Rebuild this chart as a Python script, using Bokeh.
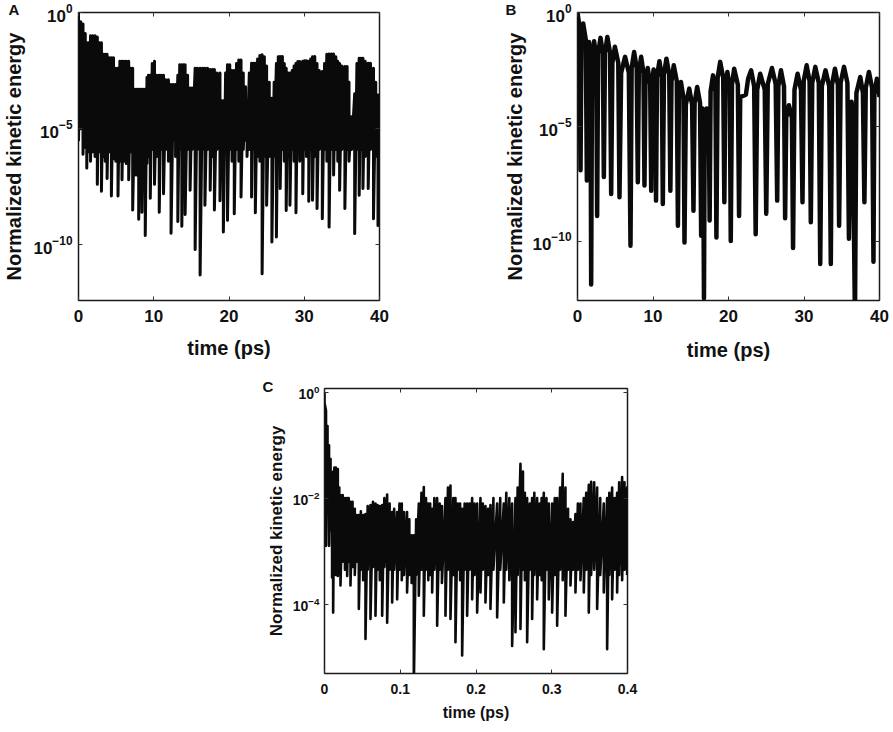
import numpy as np
from bokeh.plotting import figure
from bokeh.models import (FixedTicker, LogAxis, LinearAxis, Range1d,
                          CustomJSTickFormatter)
from bokeh.layouts import column, row
from bokeh.embed import file_html
from bokeh.resources import INLINE

FONT = "Liberation Sans"

# ---------------- data (log10 of normalized kinetic energy) ----------------
# Panel A: fast oscillation, one (top, bottom) pair per oscillation
a_t = [0.0, 0.3, 0.6, 0.9, 1.1, 1.35, 1.6, 1.9, 2.2, 2.5,
       2.8, 3.05, 3.3, 3.55, 3.8, 4.1, 4.37, 4.65, 4.95, 5.25,
       5.5, 5.78, 6.05, 6.35, 6.67, 6.95, 7.2, 7.5, 7.75, 8.0,
       8.2, 8.43, 8.65, 8.87, 9.1, 9.3, 9.54, 9.8, 10.1, 10.4,
       10.73, 11.0, 11.3, 11.6, 11.95, 12.3, 12.6, 12.9, 13.2, 13.45,
       13.73, 13.95, 14.17, 14.5, 14.83, 15.1, 15.5, 15.8, 16.16, 16.5,
       16.8, 17.15, 17.5, 17.8, 18.06, 18.4, 18.8, 19.05, 19.25, 19.55,
       19.8, 20.1, 20.4, 20.7, 21.0, 21.3, 21.6, 21.9, 22.2, 22.4,
       22.7, 23.0, 23.25, 23.5, 23.8, 24.1, 24.4, 24.7, 25.0, 25.35,
       25.7, 26.0, 26.3, 26.55, 26.8, 27.1, 27.35, 27.6, 27.85, 28.1,
       28.4, 28.65, 28.9, 29.15, 29.4, 29.8, 30.05, 30.3, 30.6, 30.85,
       31.1, 31.4, 31.7, 32.0, 32.4, 32.7, 33.0, 33.3, 33.6, 33.9,
       34.2, 34.45, 34.7, 35.0, 35.4, 35.7, 35.95, 36.3, 36.7, 37.0,
       37.3, 37.55, 37.8, 38.1, 38.5, 38.8, 39.2, 39.5, 39.8, 40.0]
a_top = [0.0, -0.4, -0.5, -0.9, -1.3, -1.3, -1.0, -1.0, -1.0, -1.05,
         -1.3, -1.3, -1.8, -1.8, -1.8, -1.95, -1.95, -1.95, -2.4, -2.4,
         -2.1, -2.1, -2.1, -2.1, -2.1, -2.4, -2.4, -3.3, -3.3, -3.3,
         -3.3, -3.3, -3.3, -3.3, -2.8, -2.7, -2.7, -2.2, -2.1, -2.7,
         -2.7, -2.7, -2.7, -2.9, -2.9, -3.1, -3.1, -3.1, -2.7, -2.25,
         -2.25, -2.25, -2.25, -2.7, -3.25, -3.25, -2.4, -2.4, -2.4, -2.4,
         -2.4, -2.4, -2.45, -2.45, -2.45, -2.6, -2.6, -3.8, -3.8, -2.6,
         -2.25, -2.25, -2.5, -2.5, -2.2, -2.04, -2.04, -2.6, -3.2, -3.9,
         -2.6, -2.18, -2.18, -2.18, -2.0, -1.85, -1.82, -1.9, -2.3, -3.0,
         -3.69, -3.0, -2.2, -1.9, -1.89, -1.89, -2.2, -2.4, -2.6, -2.61,
         -2.5, -2.3, -2.2, -2.11, -2.11, -2.1, -2.08, -2.08, -2.1, -2.0,
         -1.9, -1.89, -2.2, -2.5, -2.54, -2.2, -1.8, -1.79, -1.79, -1.79,
         -1.9, -2.1, -2.2, -2.3, -2.33, -2.33, -3.0, -4.49, -3.5, -2.2,
         -1.97, -1.97, -1.97, -2.1, -2.18, -2.18, -2.4, -3.0, -3.55, -3.55]
a_bot = [-5.5, -5.0, -6.1, -5.8, -6.7, -6.0, -6.4, -6.0, -6.2, -7.4,
         -6.0, -7.7, -6.2, -6.4, -7.15, -6.0, -7.9, -6.3, -6.4, -7.9,
         -6.4, -7.2, -6.4, -6.5, -7.2, -6.0, -8.5, -7.0, -7.0, -8.9,
         -7.0, -8.6, -7.0, -9.6, -6.5, -6.2, -8.0, -5.9, -7.4, -6.2,
         -8.6, -5.9, -7.8, -5.9, -6.4, -9.5, -5.5, -6.2, -9.0, -5.9,
         -9.2, -5.9, -8.7, -5.9, -7.65, -5.9, -10.2, -5.9, -11.3, -5.9,
         -8.3, -5.9, -7.65, -6.2, -8.5, -5.9, -8.1, -6.2, -9.45, -5.9,
         -8.95, -5.9, -6.4, -8.66, -5.9, -6.4, -7.94, -5.9, -5.5, -6.2,
         -5.9, -7.94, -5.9, -8.62, -6.2, -6.4, -11.25, -6.2, -8.3, -6.2,
         -9.88, -6.2, -9.67, -5.9, -7.58, -5.9, -6.4, -8.52, -6.2, -8.3,
         -5.9, -6.4, -8.62, -5.9, -6.4, -7.8, -5.9, -6.2, -8.13, -5.9,
         -8.08, -6.2, -8.44, -5.9, -8.88, -5.9, -6.4, -9.24, -5.9, -7.0,
         -5.9, -6.4, -7.65, -5.9, -8.44, -5.9, -6.4, -5.9, -9.52, -5.9,
         -7.87, -5.9, -7.58, -6.2, -7.58, -5.9, -8.88, -6.2, -9.17, -5.5]

# Panel B: arches (dip, shoulder, peak, shoulder)
b_t = [0.0, 0.25,
       0.4, 0.52, 0.75, 1.1,
       1.24, 1.33, 1.52, 1.72,
       1.81, 1.93, 2.2, 2.48,
       2.6, 2.73, 3.05, 3.36,
       3.49, 3.64, 3.95, 4.31,
       4.46, 4.62, 4.95, 5.4,
       5.56, 5.78, 6.3, 6.8,
       7.02, 7.17, 7.5, 7.84,
       7.99, 8.12, 8.43, 8.74,
       8.87, 9.0, 9.3, 9.63,
       9.76, 9.86, 10.08, 10.3,
       10.4, 10.53, 10.85, 11.17,
       11.3, 11.45, 11.78, 12.15,
       12.3, 12.45, 12.75, 13.15,
       13.3, 13.43, 13.7, 14.04,
       14.17, 14.35, 14.8, 15.18,
       15.36, 15.51, 15.85, 16.23,
       16.38, 16.47, 16.55, 16.63,
       16.75, 16.85, 17.1, 17.4,
       17.5, 17.63, 17.95, 18.27,
       18.4, 18.56, 18.9, 19.3,
       19.45, 19.58, 19.85, 20.17,
       20.3, 20.46, 20.75, 21.24,
       21.4, 21.55, 22.3, 22.6, 23.0, 23.4,
       23.6, 23.8, 24.2, 24.8,
       25.0, 25.2, 25.75, 26.25,
       26.45, 26.6, 26.95, 27.35,
       27.5, 27.65, 28.0, 28.4,
       28.55, 28.74, 29.15, 29.6,
       29.8, 29.96, 30.35, 30.74,
       30.9, 31.09, 31.5, 31.96,
       32.15, 32.36, 32.85, 33.34,
       33.55, 33.71, 34.1, 34.49,
       34.65, 34.85, 35.3, 35.75,
       35.95, 36.2, 36.3, 36.45,
       36.75, 36.94, 37.45, 37.8,
       38.0, 38.18, 38.6, 39.02,
       39.2, 39.32, 39.65, 39.9,
       40.0]
b_log = [0.0, -0.6,
         -6.9, -1.2, -0.48, -1.2,
         -7.35, -2.0, -1.29, -2.0,
         -11.9, -1.96, -1.26, -1.96,
         -8.9, -1.8, -1.11, -1.8,
         -7.2, -1.77, -1.07, -1.77,
         -7.94, -2.2, -1.5, -2.2,
         -8.08, -2.64, -1.94, -2.64,
         -10.2, -2.43, -1.73, -2.43,
         -7.43, -2.64, -1.94, -2.64,
         -7.57, -3.13, -2.43, -3.13,
         -7.8, -3.19, -2.49, -3.19,
         -8.23, -2.83, -2.13, -2.83,
         -8.38, -2.72, -2.02, -2.72,
         -7.8, -3.0, -2.31, -3.0,
         -9.33, -3.74, -3.04, -3.74,
         -10.06, -4.03, -3.33, -4.03,
         -8.67, -3.96, -3.26, -3.96,
         -9.77, -4.6, -4.2, -4.6,
         -12.5, -4.8, -4.2, -4.8,
         -9.1, -3.45, -2.75, -3.45,
         -9.84, -2.86, -2.16, -2.86,
         -8.3, -3.3, -2.6, -3.3,
         -10.0, -3.16, -2.46, -3.16,
         -8.9, -3.7, -3.6, -2.9, -2.53, -3.23,
         -9.7, -3.38, -2.68, -3.38,
         -8.8, -3.13, -2.43, -3.13,
         -8.23, -3.23, -2.53, -3.23,
         -9.0, -4.6, -4.06, -4.6,
         -10.3, -3.38, -2.68, -3.38,
         -8.3, -3.0, -2.31, -3.0,
         -9.18, -3.08, -2.38, -3.08,
         -11.0, -3.23, -2.53, -3.23,
         -11.0, -3.16, -2.46, -3.16,
         -9.33, -3.08, -2.38, -3.08,
         -9.9, -4.4, -3.9, -4.4,
         -13.5, -3.52, -2.82, -3.52,
         -8.3, -3.3, -2.6, -3.3,
         -10.9, -3.6, -2.9, -3.3,
         -3.7]

# Panel C: noisy decay, one (top, bottom) pair per fluctuation
c_t = [0.000, 0.002, 0.004, 0.006, 0.008, 0.010, 0.0114, 0.013, 0.015, 0.0176,
       0.0195, 0.0211, 0.024, 0.027, 0.0299, 0.032, 0.0343, 0.037, 0.040, 0.0425,
       0.0453, 0.048, 0.051, 0.0541, 0.057, 0.0607, 0.064, 0.0673, 0.070, 0.073,
       0.0761, 0.079, 0.0827, 0.086, 0.0893, 0.092, 0.0959, 0.099, 0.102, 0.105,
       0.109, 0.112, 0.115, 0.1179, 0.121, 0.1245, 0.128, 0.1311, 0.134, 0.137,
       0.1395, 0.1421, 0.145, 0.1487, 0.152, 0.155, 0.1597, 0.163, 0.1663, 0.170,
       0.1729, 0.176, 0.179, 0.1817, 0.185, 0.1883, 0.1915, 0.1949, 0.198, 0.2015,
       0.2059, 0.209, 0.2125, 0.216, 0.2191, 0.223, 0.2279, 0.232, 0.2367, 0.240,
       0.244, 0.2477, 0.2521, 0.255, 0.2587, 0.262, 0.2645, 0.2675, 0.271, 0.2741,
       0.277, 0.2807, 0.284, 0.2867, 0.2895, 0.293, 0.2961, 0.3005, 0.304, 0.3071,
       0.311, 0.3145, 0.3181, 0.3215, 0.3247, 0.328, 0.3313, 0.3345, 0.3379, 0.3423,
       0.3455, 0.3489, 0.352, 0.356, 0.3599, 0.364, 0.3687, 0.3731, 0.376, 0.3797,
       0.383, 0.3863, 0.389, 0.3929, 0.396, 0.3995]
c_top = [0.0, -0.35, -0.64, -1.0, -1.26, -1.7, -1.5, -1.42, -1.42, -1.45,
         -1.8, -1.94, -1.94, -2.0, -2.0, -2.0, -2.07, -2.07, -2.2, -2.32,
         -2.32, -2.25, -2.32, -2.3, -2.15, -2.13, -2.07, -2.1, -2.13, -2.15,
         -2.13, -2.0, -1.93, -2.1, -2.26, -2.2, -2.26, -2.1, -2.1, -2.26,
         -2.26, -2.4, -2.7, -2.7, -2.4, -2.1, -1.9, -1.79, -2.0, -2.1,
         -2.1, -2.2, -2.0, -2.0, -2.1, -2.15, -2.0, -1.8, -1.76, -2.0,
         -2.0, -2.1, -2.1, -2.2, -2.1, -2.1, -2.1, -2.0, -2.1, -2.1,
         -2.0, -2.1, -2.15, -2.2, -2.13, -2.0, -2.1, -2.0, -2.1, -1.9,
         -2.0, -2.1, -2.0, -1.8, -1.35, -1.5, -1.9, -2.0, -2.1, -2.0,
         -1.9, -2.0, -2.1, -2.0, -1.9, -2.0, -2.1, -2.1, -2.0, -2.0,
         -1.8, -1.54, -1.8, -2.2, -2.4, -2.45, -2.3, -2.1, -2.1, -2.0,
         -1.9, -1.75, -1.69, -1.7, -1.8, -2.0, -2.1, -2.0, -1.9, -1.8,
         -2.0, -1.9, -1.7, -1.6, -1.7, -1.8]
c_bot = [-0.2, -2.9, -1.6, -2.9, -2.6, -3.5, -4.16, -3.2, -3.45, -3.47,
         -3.2, -3.65, -3.2, -3.35, -3.47, -3.2, -3.65, -3.3, -3.45, -3.2,
         -4.09, -3.35, -3.55, -4.66, -3.35, -4.28, -3.3, -4.22, -3.35, -3.55,
         -4.22, -3.3, -4.35, -3.35, -3.97, -3.35, -3.91, -3.35, -3.55, -3.45,
         -3.78, -3.45, -3.6, -5.6, -3.45, -3.84, -3.35, -4.22, -3.35, -3.55,
         -3.45, -3.78, -3.35, -4.41, -3.35, -3.6, -4.22, -3.35, -4.28, -3.45,
         -4.72, -3.35, -3.55, -4.97, -3.35, -4.22, -3.35, -3.91, -3.45, -4.16,
         -3.78, -3.35, -3.97, -3.45, -4.09, -3.35, -4.25, -3.35, -3.97, -3.35,
         -3.55, -4.79, -4.53, -3.45, -4.47, -3.35, -3.55, -4.72, -3.35, -4.28,
         -3.45, -3.91, -3.45, -3.55, -4.85, -3.35, -3.91, -4.16, -3.45, -4.41,
         -3.35, -3.55, -4.22, -3.35, -3.65, -3.35, -3.78, -3.35, -3.55, -3.78,
         -3.35, -4.16, -3.45, -3.35, -4.09, -3.45, -3.78, -4.85, -3.45, -3.91,
         -3.35, -3.78, -3.45, -3.55, -3.35, -3.45]

ab_xticks = [0, 10, 20, 30, 40]
ab_yticks = [1.0, 1e-5, 1e-10]
c_xticks = [0, 0.1, 0.2, 0.3, 0.4]
c_yticks = [1.0, 1e-2, 1e-4]
y_title = "Normalized kinetic energy"
x_title = "time (ps)"
panel_letters = ["A", "B", "C"]


def zigzag(t, top, bot):
    t = np.asarray(t, float)
    xs = np.empty(2 * len(t))
    ys = np.empty(2 * len(t))
    xs[0::2] = t
    xs[1::2] = t
    ys[0::2] = 10.0 ** np.asarray(top, float)
    ys[1::2] = 10.0 ** np.asarray(bot, float)
    return xs, ys


def style_axis(ax, size, standoff):
    ax.axis_line_color = None
    ax.major_tick_in = 4
    ax.major_tick_out = 0
    ax.minor_tick_in = 0
    ax.minor_tick_out = 0
    ax.major_tick_line_color = "#333333"
    ax.major_tick_line_width = 1
    ax.major_label_text_font = FONT
    ax.major_label_text_font_style = "bold"
    ax.major_label_text_font_size = size
    ax.major_label_text_color = "#111111"
    ax.major_label_standoff = standoff


def make_panel(w, h, bl, br, bt, bb, x_end, ylo, yhi, xticks, yticks,
               tick_size, xlab_size, ylab_size, xtick_so, ytick_so,
               xlab_so, ylab_so, letter, letter_offset, letter_standoff):
    p = figure(width=w, height=h, x_range=Range1d(0, x_end),
               y_range=Range1d(10 ** ylo, 10 ** yhi), y_axis_type="log",
               output_backend="svg", toolbar_location=None, title=letter,
               min_border_left=bl, min_border_right=br,
               min_border_top=bt, min_border_bottom=bb)
    p.grid.visible = False
    p.outline_line_color = "#1a1a1a"
    p.outline_line_width = 1.5
    p.background_fill_color = "white"
    p.border_fill_color = "white"

    # panel letter as a left-aligned title shifted over the left margin
    t = p.title
    t.align = "left"
    t.vertical_align = "top"
    t.offset = letter_offset
    t.text_font = FONT
    t.text_font_style = "bold"
    t.text_font_size = "15px"
    t.text_color = "#111111"
    try:
        t.standoff = letter_standoff
    except Exception:
        t.standoff = 0

    xa = p.xaxis[0]
    xa.ticker = FixedTicker(ticks=xticks, minor_ticks=[])
    style_axis(xa, tick_size, xtick_so)
    xa.axis_label = x_title
    xa.axis_label_text_font = FONT
    xa.axis_label_text_font_style = "bold"
    xa.axis_label_text_font_size = xlab_size
    xa.axis_label_text_color = "#111111"
    xa.axis_label_standoff = xlab_so

    ya = p.yaxis[0]
    ya.ticker = FixedTicker(ticks=yticks, minor_ticks=[])
    style_axis(ya, tick_size, ytick_so)
    ya.axis_label = y_title
    ya.axis_label_text_font = FONT
    ya.axis_label_text_font_style = "bold"
    ya.axis_label_text_font_size = ylab_size
    ya.axis_label_text_color = "#111111"
    ya.axis_label_standoff = ylab_so

    ra = LogAxis(ticker=FixedTicker(ticks=yticks, minor_ticks=[]),
                 formatter=CustomJSTickFormatter(code="return ''"))
    style_axis(ra, "1px", 0)
    p.add_layout(ra, "right")
    ta = LinearAxis(ticker=FixedTicker(ticks=xticks, minor_ticks=[]),
                    formatter=CustomJSTickFormatter(code="return ''"))
    style_axis(ta, "1px", 0)
    p.add_layout(ta, "above")
    return p


pA = make_panel(498, 374, 76, 119, 11, 74, 40, -12.4, 0.0, ab_xticks, ab_yticks,
                "17px", "20px", "20px", 9, 6, 12, 5, panel_letters[0], -70, -14)
xs, ys = zigzag(a_t, a_top, a_bot)
pA.line(xs, ys, line_width=3, line_color="#0a0a0a", line_join="round")

pB = make_panel(395, 374, 79, 14, 12, 71, 40, -12.6, 0.0, ab_xticks, ab_yticks,
                "17px", "20px", "20px", 9, 6, 14, 3, panel_letters[1], -72, -14)
pB.line(b_t, 10.0 ** np.asarray(b_log), line_width=4.5, line_color="#0a0a0a",
        line_join="round")

pC = make_panel(667, 356, 324, 40, 14, 57, 0.4, -5.31, 0.07, c_xticks, c_yticks,
                "14px", "16px", "17px", 10, 5, 7, 4, panel_letters[2], -62, -16)
xs, ys = zigzag(c_t, c_top, c_bot)
pC.line(xs, ys, line_width=2.6, line_color="#0a0a0a", line_join="round")

layout = column(row(pA, pB), pC)
open("out.html", "w").write(file_html(layout, INLINE))
